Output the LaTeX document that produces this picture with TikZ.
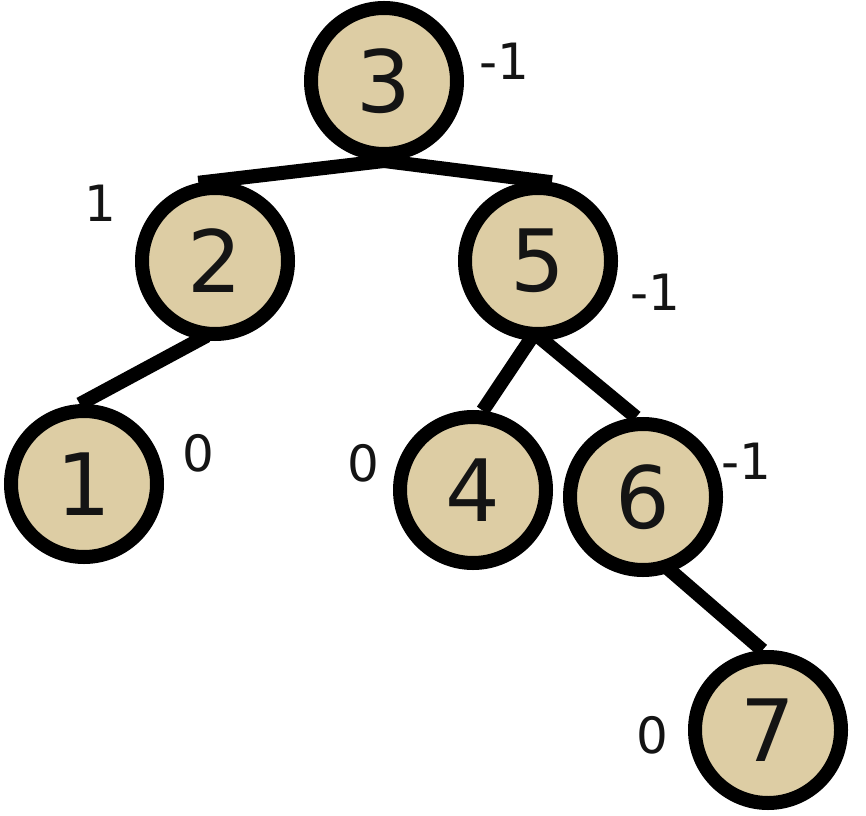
\documentclass[tikz,border=0pt]{standalone}
\usepackage{fontspec}
\setmainfont{DejaVu Sans}
\usetikzlibrary{backgrounds}
\definecolor{nodefill}{RGB}{221,205,164}
\definecolor{ink}{RGB}{20,20,20}
\tikzset{
  treenode/.style={circle, draw=black, fill=nodefill, line width=14pt,
    minimum size=146pt, inner sep=0pt, text=ink,
    font=\fontsize{86}{86}\selectfont},
  balance/.style={inner sep=0pt, text=ink, font=\fontsize{50}{50}\selectfont},
  treeedge/.style={draw=black, line width=14pt, shorten <=-8pt}
}
\begin{document}
\begin{tikzpicture}[x=1pt,y=1pt]
\useasboundingbox (0,0) rectangle (866,815);
\node[treenode] (n3) at (384,734) {3};
\node[treenode] (n2) at (215,554) {2};
\node[treenode] (n5) at (538,554) {5};
\node[treenode] (n1) at (84,331) {1};
\node[treenode] (n4) at (473,325) {4};
\node[treenode] (n6) at (643,318) {6};
\node[treenode] (n7) at (768,85) {7};
\node[balance] (b3) at (504,754) {-1};
\node[balance] (b2) at (100,612) {1};
\node[balance] (b5) at (655,523) {-1};
\node[balance] (b1) at (198,362) {0};
\node[balance] (b4) at (363,352) {0};
\node[balance] (b6) at (746,354) {-1};
\node[balance] (b7) at (652,80) {0};
\begin{scope}[on background layer]
\draw[treeedge] (n3.270) -- (n2.102);
\draw[treeedge] (n3.270) -- (n5.80);
\draw[treeedge] (n2.259) -- (n1.93);
\draw[treeedge] (n5.264) -- (n4.83);
\draw[treeedge] (n5.274) -- (n6.95);
\draw[treeedge] (n6.291) -- (n7.94);
\end{scope}
\end{tikzpicture}
\end{document}
